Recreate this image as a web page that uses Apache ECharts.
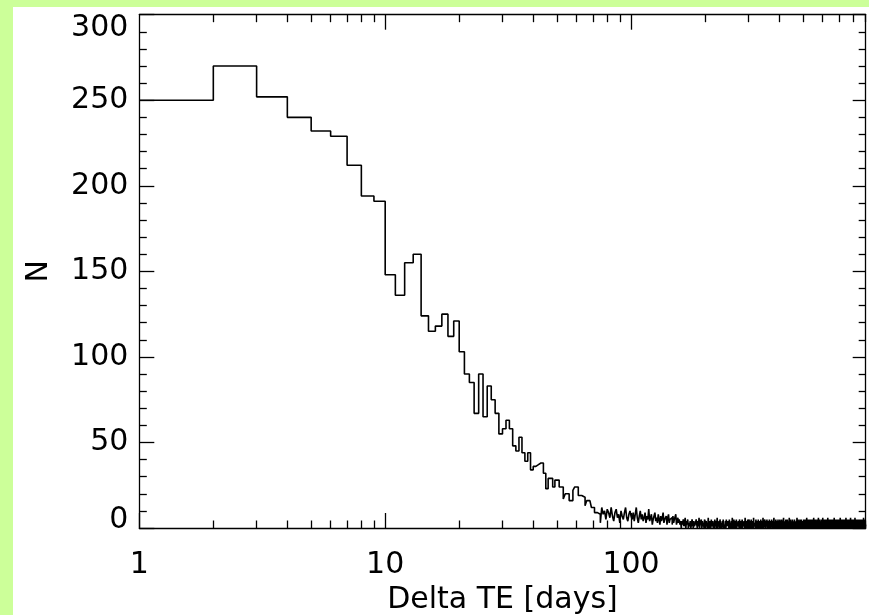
<!DOCTYPE html>
<html><head><meta charset="utf-8">
<script src="https://cdn.jsdelivr.net/npm/echarts@6/dist/echarts.min.js"></script>
<style>html,body{margin:0;padding:0;background:#ccff99}#c{width:869px;height:615px}</style>
</head><body><div id="c"></div>
<script>
// Histogram of Delta TE, one-day-wide bins; each value is the count of the bin starting at that day
const countsDay1to99 = [250,270,252,240,232,229,212,194,191,148,136,155,160,124,115,118,125,112,121,103,
90,85,67,90,65,83,75,67,55,58,63,58,48,45,53,44,39,44,34,36,
37,38,38,32,23,29,29,24,28,28,24,24,17,20,20,16,16,22,24,24,
19,19,18,18,13,16,16,16,12,12,9,9,10,8,3,12,8,10,5,11,
9,6,12,7,4,9,11,6,8,3,10,7,5,9,12,6,4,8,10];
const countsDay100to159 = [7,5,9,4,8,12,6,3,7,10,5,8,4,6,9,3,7,5,11,4,6,8,2,5,7,9,4,6,3,8,
5,2,7,4,6,9,3,5,4,7,2,6,8,3,5,4,6,2,7,3,5,4,8,2,4,6,3,5,2,4];
const countsDay160to299 = [0,4,2,5,1,3,6,0,4,2,5,0,3,1,4,0,2,5,3,0,4,1,0,3,5,2,0,4,1,6,
0,3,2,5,0,4,1,3,0,5,2,0,4,1,3,0,6,2,0,4,3,0,5,1,2,4,0,3,0,5,
1,4,0,2,6,0,3,1,4,0,5,2,0,3,0,4,1,5,0,2,3,0,4,0,5,1,2,0,4,3,
0,5,2,0,3,1,4,0,6,2,0,3,5,0,1,4,0,2,5,0,3,1,0,4,2,0,5,3,0,1,
4,0,2,5,0,3,1,0,4,2,0,6,1,3,0,4,2,0,5,1];
const countsDay300to499 = [0,3,5,0,2,4,0,1,5,0,3,0,4,2,0,6,1,0,3,4,0,2,5,0,1,3,0,4,0,5,
2,0,3,1,4,0,2,5,0,3,1,0,4,0,6,2,0,3,1,0,5,2,0,4,1,0,3,5,0,2,
0,4,1,3,0,5,0,2,4,0,3,1,0,5,2,0,4,0,3,1,0,6,2,0,3,4,0,1,5,0,
2,0,4,3,0,1,5,0,2,4,0,3,0,5,1,0,4,2,0,3,5,0,1,4,0,2,0,6,3,0,
1,4,0,3,2,0,5,0,1,4,0,2,5,0,3,1,0,4,0,2,6,0,3,1,0,5,2,0,4,1,
0,3,0,5,2,0,4,1,0,3,2,0,5,0,1,4,0,3,2,0,4,1,0,6,0,2,3,0,5,1,
0,4,2,0,3,0,5,1,0,4,2,0,3,5,0,1,4,0,2,0];
const countsDay500to899 = [0,4,2,0,5,1,0,3,4,0,2,5,0,1,3,0,4,0,6,2,0,3,1,0,5,2,0,4,1,0,
3,0,5,2,0,4,0,1,3,5,0,2,4,0,3,1,0,5,0,2,4,0,1,6,0,3,2,0,4,1,
0,5,0,3,2,0,4,1,0,3,5,0,2,0,4,1,0,3,6,0,1,4,0,2,5,0,3,0,1,4,
0,2,3,0,5,1,0,4,2,0,3,0,6,1,0,4,2,0,3,5,0,1,4,0,2,3,0,5,0,1,
4,0,3,2,0,5,1,0,4,0,2,6,0,3,1,0,4,2,0,5,1,0,3,0,4,2,0,5,1,3,
0,4,0,2,5,0,1,3,0,4,2,0,5,1,0,3,0,4,2,0,6,1,0,3,4,0,2,5,0,1,
3,0,4,0,2,5,0,1,3,0,4,2,0,5,0,3,1,0,4,2,0,3,5,0,1,4,0,2,0,6,
3,0,2,4,0,1,5,0,3,0,4,1,0,2,5,0,3,0,4,1,0,5,2,0,3,1,0,4,0,2,
5,0,1,3,0,4,2,0,6,1,0,3,0,4,2,0,5,1,0,3,2,0,4,0,5,1,0,3,2,0,
4,0,1,5,0,2,3,0,4,1,0,6,0,2,4,0,1,3,0,5,2,0,3,1,0,4,0,5,2,0,
3,1,0,4,2,0,5,0,1,3,0,4,2,0,6,1,0,3,0,4,2,0,5,1,0,3,4,0,2,0,
5,1,0,3,0,4,2,0,1,5,0,3,0,4,1,0,2,5,0,3,1,0,4,2,0,5,0,3,1,0,
4,2,0,3,5,0,1,4,0,2,0,5,1,0,3,0,4,2,0,1,3,0,6,2,0,4,1,0,3,0,
5,1,0,2,4,0,3,0,2,1];
const firstBinDay = 1;
const lastEdgeDay = 900;
const xMajorTicks = [1, 10, 100];
const xMinorTicks = [2,3,4,5,6,7,8,9,20,30,40,50,60,70,80,90,200,300,400,500,600,700,800,900];
const xTopMajorTicks = [10, 100];
const yMin = 0, yMax = 300, yStep = 50;
const xAxisTitle = 'Delta TE [days]';
const yAxisTitle = 'N';

const counts = [].concat(countsDay1to99, countsDay100to159, countsDay160to299, countsDay300to499, countsDay500to899);
const stepData = counts.map((v, i) => [firstBinDay + i, v]);
stepData.push([lastEdgeDay, counts[counts.length - 1]]);

const FONT = 'DejaVu Sans';
const black = '#000';
const lineSt = {color: black, width: 1.3};

function logAxis(pos, ticks, len, opts) {
  return Object.assign({
    type: 'log', logBase: 10, min: firstBinDay, max: lastEdgeDay, position: pos,
    axisLine: {show: false, onZero: false, lineStyle: lineSt},
    axisTick: {show: true, inside: true, length: len, customValues: ticks, lineStyle: lineSt},
    axisLabel: {show: false},
    splitLine: {show: false}, minorTick: {show: false}, minorSplitLine: {show: false}
  }, opts || {});
}

const chart = echarts.init(document.getElementById('c'), null, {renderer: 'canvas'});
chart.setOption({
  animation: false,
  backgroundColor: '#ccff99',
  graphic: [{type: 'rect', z: -10, shape: {x: 13, y: 7, width: 860, height: 612}, style: {fill: '#fff'}}],
  grid: {left: 139.3, top: 14.7, right: 3.3, bottom: 87, containLabel: false, outerBoundsMode: 'none'},
  xAxis: [
    logAxis('bottom', xMajorTicks, 15, {
      axisLine: {show: true, onZero: false, lineStyle: lineSt},
      axisLabel: {show: true, customValues: xMajorTicks, fontSize: 30, fontFamily: FONT, color: black, margin: 22,
                  formatter: v => String(Math.round(v))},
      name: xAxisTitle, nameLocation: 'middle', nameGap: 54,
      nameTextStyle: {fontSize: 30, fontFamily: FONT, color: black}
    }),
    logAxis('bottom', xMinorTicks, 7.5),
    logAxis('top', xTopMajorTicks, 15, {axisLine: {show: true, onZero: false, lineStyle: lineSt}}),
    logAxis('top', xMinorTicks, 7.5)
  ],
  yAxis: [
    {
      type: 'value', min: yMin, max: yMax, interval: yStep, position: 'left',
      axisLine: {show: true, onZero: false, lineStyle: lineSt},
      axisTick: {show: true, inside: true, length: 15, lineStyle: lineSt},
      minorTick: {show: true, splitNumber: 5, length: 7.5, lineStyle: lineSt},
      splitLine: {show: false},
      axisLabel: {
        fontSize: 30, fontFamily: FONT, color: black, margin: 11,
        formatter: v => v === yMin ? '{lo|' + v + '}' : v === yMax ? '{hi|' + v + '}' : '{n|' + v + '}',
        rich: {
          n: {fontSize: 30, fontFamily: FONT, color: black},
          lo: {fontSize: 30, fontFamily: FONT, color: black, padding: [0, 0, 16, 0]},
          hi: {fontSize: 30, fontFamily: FONT, color: black, padding: [27, 0, 0, 0]}
        }
      },
      name: yAxisTitle, nameLocation: 'middle', nameGap: 85, nameRotate: 90,
      nameTextStyle: {fontSize: 30, fontFamily: FONT, color: black}
    },
    {
      type: 'value', min: yMin, max: yMax, interval: yStep, position: 'right',
      axisLine: {show: true, onZero: false, lineStyle: lineSt},
      axisTick: {show: true, inside: true, length: 13, lineStyle: lineSt},
      minorTick: {show: true, splitNumber: 5, length: 7, lineStyle: lineSt},
      splitLine: {show: false},
      axisLabel: {show: false}
    }
  ],
  series: [{
    type: 'line', xAxisIndex: 0, yAxisIndex: 0, step: 'end',
    data: stepData, showSymbol: false, symbol: 'none', silent: true,
    lineStyle: {color: black, width: 1.6}, clip: true
  }]
});
</script>
</body></html>
